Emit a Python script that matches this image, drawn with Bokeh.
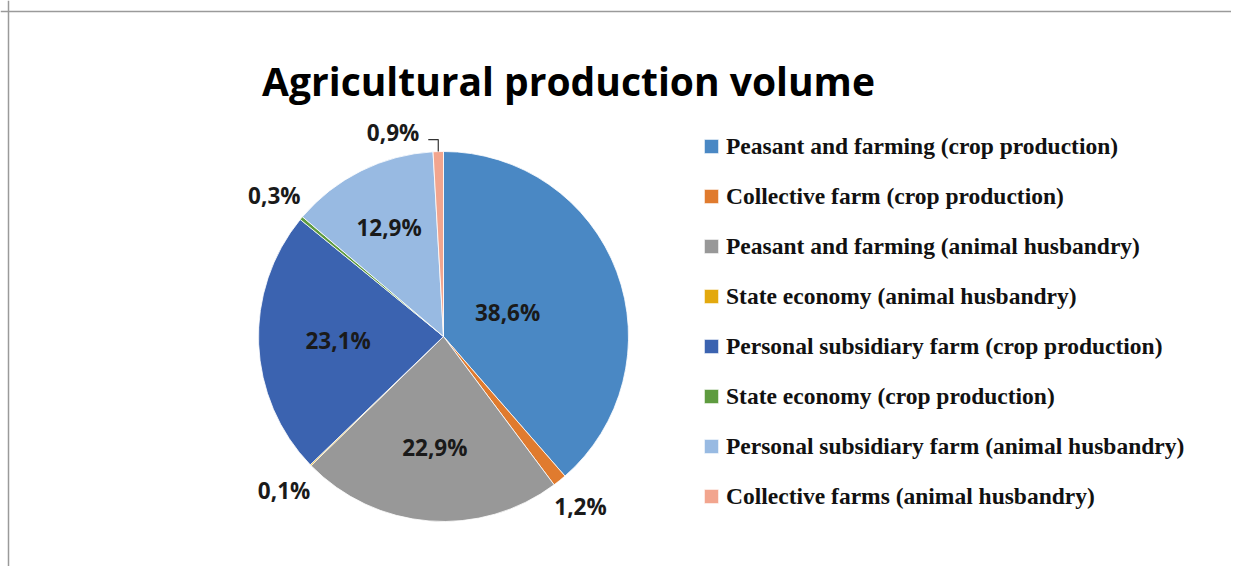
import math
from bokeh.plotting import figure
from bokeh.models import ColumnDataSource, Legend, LegendItem, Span
from bokeh.core.properties import value
from bokeh.embed import file_html
from bokeh.resources import INLINE

# ---- data ----
categories = [
    "Peasant and farming (crop production)",
    "Collective farm (crop production)",
    "Peasant and farming (animal husbandry)",
    "State economy (animal husbandry)",
    "Personal subsidiary farm (crop production)",
    "State economy (crop production)",
    "Personal subsidiary farm (animal husbandry)",
    "Collective farms (animal husbandry)",
]
shares = [38.6, 1.2, 22.9, 0.1, 23.1, 0.3, 12.9, 0.9]
share_labels = ["38,6%", "1,2%", "22,9%", "0,1%", "23,1%", "0,3%", "12,9%", "0,9%"]
colors = ["#4A88C4", "#E07B2E", "#989898", "#E3A90E",
          "#3B63B0", "#5E9B3F", "#98BAE2", "#F2A58E"]

# ---- layout / style ----
W, H = 1231, 566
CX, CY, R = 443, 230, 185
label_r = [0.37, 1.18, 0.60, 1.20, 0.57, 1.19, 0.66, None]  # label distance as fraction of radius

total = sum(shares)
starts, ends, mids = [], [], []
cum = 0.0
for s in shares:
    a0 = math.pi / 2 - 2 * math.pi * cum / total
    cum += s
    a1 = math.pi / 2 - 2 * math.pi * cum / total
    starts.append(a0)
    ends.append(a1)
    mids.append((a0 + a1) / 2)

src = ColumnDataSource(dict(cat=categories, start=starts, end=ends, color=colors))

p = figure(width=W, height=H, x_range=(0, W), y_range=(0, H),
           x_axis_type=None, y_axis_type=None, toolbar_location=None,
           output_backend="svg", min_border=0)
p.grid.visible = False
p.outline_line_color = None
p.background_fill_color = "white"
p.border_fill_color = "white"

# frame lines (top and left edges visible)
p.add_layout(Span(location=H - 11, dimension="width", line_color="#9a9a9a", line_width=1.5))
p.add_layout(Span(location=8, dimension="height", line_color="#9a9a9a", line_width=1.5))

wr = p.wedge(x=CX, y=CY, radius=R, start_angle="start", end_angle="end",
             direction="clock", fill_color="color", line_color="white",
             line_width=0.8, source=src)

# percentage labels
lx, ly, lt = [], [], []
for i, (m, f) in enumerate(zip(mids, label_r)):
    if f is None:
        continue
    lx.append(CX + f * R * math.cos(m))
    ly.append(CY + f * R * math.sin(m))
    lt.append(share_labels[i])
p.text(x=lx, y=ly, text=lt, text_align="center", text_baseline="middle",
       text_font=value("Open Sans"), text_font_style="bold",
       text_font_size="22.5px", text_color="#1a1a1a")

# leader-line label for the last, tiny slice
m = mids[-1]
ex, ey = CX + R * math.cos(m), CY + R * math.sin(m)
p.line(x=[ex, ex, ex - 10], y=[ey, ey + 12, ey + 12], line_color="#333333", line_width=1.2)
p.text(x=[ex - 19], y=[ey + 19], text=[share_labels[-1]], text_align="right",
       text_baseline="middle", text_font=value("Open Sans"), text_font_style="bold",
       text_font_size="22.5px", text_color="#1a1a1a")

# title
p.text(x=[568], y=[H - 80], text=["Agricultural production volume"], text_align="center",
       text_baseline="middle", text_font=value("Open Sans"), text_font_style="bold",
       text_font_size="39px", text_color="#000000")

items = [LegendItem(label=c, renderers=[wr], index=i) for i, c in enumerate(categories)]
legend = Legend(items=items, location=(702, 56), orientation="vertical",
                padding=0, margin=0, spacing=22, glyph_width=18, glyph_height=18,
                label_height=28, label_standoff=6,
                label_text_font="Liberation Serif", label_text_font_style="bold",
                label_text_font_size="23.5px", label_text_color="#111111",
                border_line_color=None, background_fill_alpha=0)
p.add_layout(legend, "center")

open("out.html", "w").write(file_html(p, INLINE))
